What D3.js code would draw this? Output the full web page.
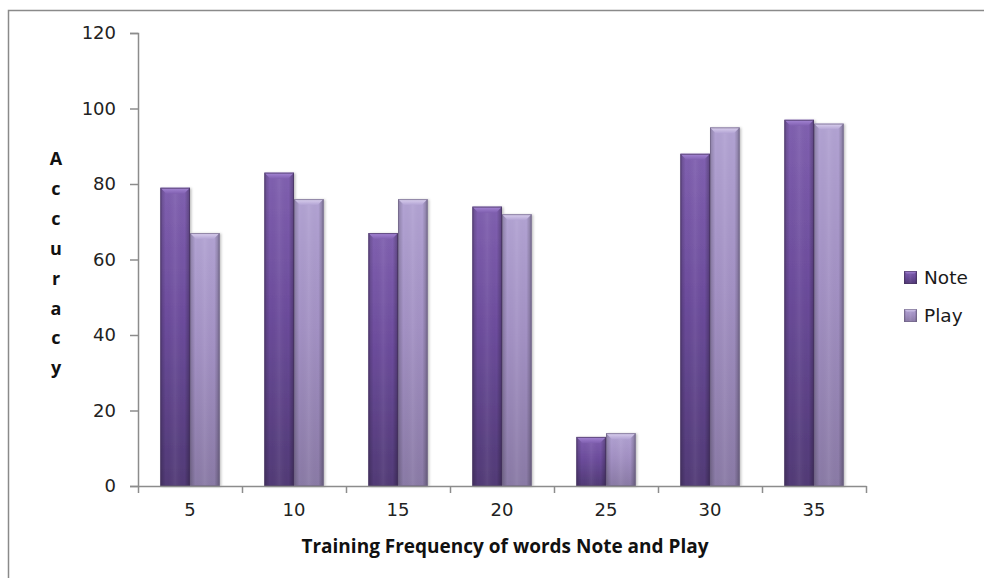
<!DOCTYPE html>
<html>
<head>
<meta charset="utf-8">
<script src="https://cdn.jsdelivr.net/npm/d3@7"></script>
<style>
  html, body { margin: 0; padding: 0; background: #fff; }
  svg { display: block; }
</style>
</head>
<body>
<svg id="chart" width="984" height="578"></svg>
<script>
// Accuracy per training frequency for the words "Note" and "Play"
const categories = ["5", "10", "15", "20", "25", "30", "35"];
const seriesNames = ["Note", "Play"];
const noteValues = [79, 83, 67, 74, 13, 88, 97];
const playValues = [67, 76, 76, 72, 14, 95, 96];
const yTicks = [0, 20, 40, 60, 80, 100, 120];
const xTitle = "Training Frequency of words Note and Play";
const yTitle = "Accuracy";

const palette = {
  Note: { top: "#8060b0", mid: "#6c4c9c", bottom: "#513a76", bevel: "#a687d6", edge: "#47345f" },
  Play: { top: "#b2a3d3", mid: "#a391c4", bottom: "#8a7aa6", bevel: "#dcd2f0", edge: "#6e6283" }
};

const svg = d3.select("#chart");
const defs = svg.append("defs");
const plot = { left: 138, right: 866, top: 33, bottom: 486 };

// outer frame (only top and left edges fall inside the canvas)
svg.append("path")
  .attr("d", "M8.5,600 V10.5 H1000")
  .attr("fill", "none").attr("stroke", "#8a8a8a").attr("stroke-width", 1.5);

const x0 = d3.scaleBand().domain(categories)
  .range([plot.left, plot.right]).paddingInner(0.43).paddingOuter(0.215);
const x1 = d3.scaleBand().domain(seriesNames).range([0, x0.bandwidth()]);
const y = d3.scaleLinear().domain([0, 120]).range([plot.bottom, plot.top]);

// gradients for bar bodies: vertical shade plus darker side edges
seriesNames.forEach(name => {
  const c = palette[name];
  const gv = defs.append("linearGradient").attr("id", "v-" + name)
    .attr("x1", 0).attr("y1", 0).attr("x2", 0).attr("y2", 1);
  gv.append("stop").attr("offset", "0%").attr("stop-color", c.top);
  gv.append("stop").attr("offset", "45%").attr("stop-color", c.mid);
  gv.append("stop").attr("offset", "100%").attr("stop-color", c.bottom);
  const gh = defs.append("linearGradient").attr("id", "h-" + name)
    .attr("x1", 0).attr("y1", 0).attr("x2", 1).attr("y2", 0);
  gh.append("stop").attr("offset", "0%").attr("stop-color", "#000").attr("stop-opacity", 0.22);
  gh.append("stop").attr("offset", "18%").attr("stop-color", "#000").attr("stop-opacity", 0.0);
  gh.append("stop").attr("offset", "50%").attr("stop-color", "#fff").attr("stop-opacity", 0.06);
  gh.append("stop").attr("offset", "82%").attr("stop-color", "#000").attr("stop-opacity", 0.0);
  gh.append("stop").attr("offset", "100%").attr("stop-color", "#000").attr("stop-opacity", 0.28);
  const gb = defs.append("linearGradient").attr("id", "b-" + name)
    .attr("x1", 0).attr("y1", 0).attr("x2", 0).attr("y2", 1);
  gb.append("stop").attr("offset", "0%").attr("stop-color", c.bevel);
  gb.append("stop").attr("offset", "100%").attr("stop-color", c.top);
});

const shadow = defs.append("filter").attr("id", "shadow")
  .attr("x", "-20%").attr("y", "-5%").attr("width", "150%").attr("height", "115%");
shadow.append("feDropShadow").attr("dx", 1.5).attr("dy", 0.5).attr("stdDeviation", 1.2)
  .attr("flood-color", "#000").attr("flood-opacity", 0.25);

const rows = categories.map((c, i) => ({
  cat: c,
  values: [
    { name: "Note", value: noteValues[i] },
    { name: "Play", value: playValues[i] }
  ]
}));

// draws one bevelled bar into a group
function drawBar(g, bx, by, bw, bh, name) {
  const c = palette[name];
  const bev = Math.min(6, bh / 2);
  g.append("rect").attr("x", bx).attr("y", by).attr("width", bw).attr("height", bh)
    .attr("fill", `url(#v-${name})`).attr("filter", "url(#shadow)");
  g.append("rect").attr("x", bx).attr("y", by).attr("width", bw).attr("height", bh)
    .attr("fill", `url(#h-${name})`);
  g.append("path")
    .attr("d", `M${bx},${by} H${bx + bw} L${bx + bw - 6},${by + bev} H${bx + 6} Z`)
    .attr("fill", `url(#b-${name})`);
  g.append("rect").attr("x", bx + 0.5).attr("y", by + 0.5).attr("width", bw - 1).attr("height", bh - 1)
    .attr("fill", "none").attr("stroke", c.edge).attr("stroke-opacity", 0.7).attr("stroke-width", 1);
}

const groups = svg.append("g").selectAll("g").data(rows).join("g")
  .attr("transform", d => `translate(${x0(d.cat)},0)`);
groups.each(function (d) {
  const g = d3.select(this);
  d.values.forEach(v => {
    drawBar(g, x1(v.name), y(v.value), x1.bandwidth(), y(0) - y(v.value), v.name);
  });
});

const axisColor = "#8c8c8c";
const labelFont = "'DejaVu Sans', sans-serif";

// y axis
const yAxis = svg.append("g").attr("transform", `translate(${plot.left},0)`)
  .call(d3.axisLeft(y).tickValues(yTicks).tickSize(8).tickPadding(14));
yAxis.select(".domain").attr("stroke", axisColor).attr("stroke-width", 1.5);
yAxis.selectAll(".tick line").attr("stroke", axisColor).attr("stroke-width", 1.5);
yAxis.selectAll(".tick text").attr("font-family", labelFont).attr("font-size", 18).attr("fill", "#222");

// x axis: tick marks at category boundaries, labels at centres
const xb = d3.scaleLinear().domain([0, categories.length]).range([plot.left, plot.right]);
const xTickAxis = svg.append("g").attr("transform", `translate(0,${plot.bottom})`)
  .call(d3.axisBottom(xb).tickValues(d3.range(categories.length + 1)).tickFormat("").tickSize(7).tickSizeOuter(0));
xTickAxis.select(".domain").attr("stroke", axisColor).attr("stroke-width", 1.5);
xTickAxis.selectAll(".tick line").attr("stroke", axisColor).attr("stroke-width", 1.5);

const xLabelAxis = svg.append("g").attr("transform", `translate(0,${plot.bottom})`)
  .call(d3.axisBottom(x0).tickSize(0).tickPadding(17));
xLabelAxis.select(".domain").remove();
xLabelAxis.selectAll(".tick text").attr("font-family", labelFont).attr("font-size", 18).attr("fill", "#222");

// axis titles
const titleFont = "'Open Sans', sans-serif";
svg.append("text").attr("x", 505).attr("y", 553).attr("text-anchor", "middle")
  .attr("font-family", titleFont).attr("font-weight", 700).attr("font-size", 19).attr("fill", "#111")
  .text(xTitle);

svg.append("g").selectAll("text").data(yTitle.split("")).join("text")
  .attr("x", 56).attr("y", (d, i) => 165 + i * 29.9).attr("text-anchor", "middle")
  .attr("font-family", titleFont).attr("font-weight", 700).attr("font-size", 18).attr("fill", "#111")
  .text(d => d);

// legend
const legend = svg.append("g").selectAll("g").data(seriesNames).join("g")
  .attr("transform", (d, i) => `translate(904,${271 + i * 38})`);
legend.each(function (name) {
  const g = d3.select(this);
  g.append("rect").attr("width", 13).attr("height", 13).attr("fill", `url(#v-${name})`);
  g.append("rect").attr("width", 13).attr("height", 13).attr("fill", `url(#h-${name})`);
  g.append("path").attr("d", "M0,0 H13 L10,3 H3 Z").attr("fill", `url(#b-${name})`);
  g.append("rect").attr("x", 0.5).attr("y", 0.5).attr("width", 12).attr("height", 12)
    .attr("fill", "none").attr("stroke", palette[name].edge).attr("stroke-opacity", 0.6);
  g.append("text").attr("x", 20).attr("y", 6.5).attr("dy", "0.36em")
    .attr("font-family", labelFont).attr("font-size", 18.5).attr("fill", "#1a1a1a").text(name);
});
</script>
</body>
</html>
